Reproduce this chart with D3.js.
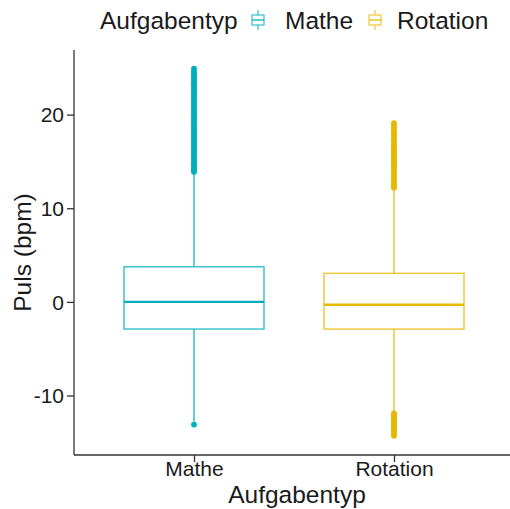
<!DOCTYPE html>
<html>
<head>
<meta charset="utf-8">
<script src="https://cdn.jsdelivr.net/npm/d3@7"></script>
<style>
  html, body { margin: 0; padding: 0; background: #fff; }
  svg { display: block; font-family: "Liberation Sans", Arial, sans-serif; }
</style>
</head>
<body>
<svg id="chart" width="510" height="509"></svg>
<script>
// Task types on the x axis and their colours
const categories = ["Mathe", "Rotation"];
const colors = ["#00AFBB", "#E7B800"];

// Box statistics per task type (bpm): lower whisker, Q1, median, Q3, upper whisker
const whiskerLow = [-12.8, -11.8];
const q1 = [-2.9, -2.9];
const median = [0.0, -0.3];
const q3 = [3.75, 3.05];
const whiskerHigh = [13.8, 12.0];

// Outlying pulse values
const outliersMathe = [
  -13.1,
  13.9, 14.1, 14.3, 14.6, 14.8, 15.0, 15.3, 15.5, 15.8, 16.0, 16.2, 16.5, 16.7,
  17.0, 17.2, 17.4, 17.7, 17.9, 18.2, 18.4, 18.6, 18.9, 19.1, 19.4, 19.6, 19.8,
  20.1, 20.3, 20.6, 20.8, 21.0, 21.3, 21.5, 21.8, 22.0, 22.2, 22.5, 22.7, 23.0,
  23.2, 23.4, 23.7, 23.9, 24.2, 24.4, 24.6, 24.9
];
const outliersRotation = [
  -11.9, -12.1, -12.3, -12.5, -12.7, -12.9, -13.1, -13.3, -13.5, -13.7, -13.9, -14.1, -14.3,
  12.2, 12.4, 12.6, 12.9, 13.1, 13.3, 13.6, 13.8, 14.0, 14.3, 14.5, 14.7, 15.0,
  15.2, 15.4, 15.7, 15.9, 16.1, 16.4, 16.6, 16.8, 17.1, 17.3, 17.5, 17.8, 18.0,
  18.3, 18.6, 18.9, 19.1
];
const outliers = [outliersMathe, outliersRotation];

const yTicks = [-10, 0, 10, 20];
const yDomain = [-16.35, 26.9];

const svg = d3.select("#chart");
const mLeft = 74, mRight = 514, mTop = 50, mBottom = 455;

// categories sit 0.6 steps in from each end of the axis
const x = d3.scalePoint().domain(categories).range([mLeft, mRight]).padding(0.6);
const step = x.step();
const boxW = step * 0.7;

const y = d3.scaleLinear().domain(yDomain).range([mBottom, mTop]);

const color = d3.scaleOrdinal().domain(categories).range(colors);

// Boxes
const g = svg.append("g");
categories.forEach((c, i) => {
  const cx = x(c);
  const col = color(c);
  const gg = g.append("g");
  // whiskers
  gg.append("line").attr("x1", cx).attr("x2", cx)
    .attr("y1", y(q3[i])).attr("y2", y(whiskerHigh[i]))
    .attr("stroke", col).attr("stroke-width", 1.2);
  gg.append("line").attr("x1", cx).attr("x2", cx)
    .attr("y1", y(q1[i])).attr("y2", y(whiskerLow[i]))
    .attr("stroke", col).attr("stroke-width", 1.2);
  // box
  gg.append("rect")
    .attr("x", cx - boxW / 2).attr("width", boxW)
    .attr("y", y(q3[i])).attr("height", y(q1[i]) - y(q3[i]))
    .attr("fill", "#fff").attr("stroke", col).attr("stroke-width", 1.4)
    .attr("stroke-opacity", 0.8);
  // median
  gg.append("line")
    .attr("x1", cx - boxW / 2).attr("x2", cx + boxW / 2)
    .attr("y1", y(median[i])).attr("y2", y(median[i]))
    .attr("stroke", col).attr("stroke-width", 2.4);
  // outliers
  gg.selectAll("circle").data(outliers[i]).join("circle")
    .attr("cx", cx).attr("cy", d => y(d)).attr("r", 2.9)
    .attr("fill", col);
});

// Axes
const axisColor = "#333";
const yAxis = svg.append("g").attr("transform", `translate(${mLeft},0)`)
  .call(d3.axisLeft(y).tickValues(yTicks).tickSize(7).tickPadding(3).tickFormat(d => String(d)));
const xAxis = svg.append("g").attr("transform", `translate(0,${mBottom})`)
  .call(d3.axisBottom(x).tickSize(7));

[yAxis, xAxis].forEach(a => {
  a.select(".domain").attr("stroke", axisColor).attr("stroke-width", 1.3);
  a.selectAll(".tick line").attr("stroke", axisColor).attr("stroke-width", 1.3);
  a.selectAll("text").attr("fill", "#1a1a1a").style("font-family", "'Liberation Sans', Arial, sans-serif");
});
// axis lines without end caps
yAxis.select(".domain").attr("d", `M0,${mTop}V${mBottom}`);
xAxis.select(".domain").attr("d", `M${mLeft},0H${mRight}`);
yAxis.selectAll("text").attr("font-size", 21).attr("dy", "0.35em");
xAxis.selectAll("text").attr("font-size", 21).attr("y", 21).attr("dy", 0);

// Axis titles
svg.append("text").attr("x", 297).attr("y", 503)
  .attr("text-anchor", "middle").attr("font-size", 24.5).attr("fill", "#1a1a1a")
  .text("Aufgabentyp");
svg.append("text")
  .attr("transform", `translate(31,${(mTop + mBottom) / 2}) rotate(-90)`)
  .attr("text-anchor", "middle").attr("font-size", 24.5).attr("fill", "#1a1a1a")
  .text("Puls (bpm)");

// Legend
const legend = svg.append("g");
legend.append("text").attr("x", 100).attr("y", 28.5)
  .attr("font-size", 24.5).attr("fill", "#1a1a1a").text("Aufgabentyp");
const keyX = [258, 375];
const labelX = [285, 397];
categories.forEach((c, i) => {
  const col = color(c);
  const k = legend.append("g").attr("transform", `translate(${keyX[i]},20)`);
  k.append("line").attr("x1", 0).attr("x2", 0).attr("y1", -10).attr("y2", 10)
    .attr("stroke", col).attr("stroke-width", 1.2).attr("stroke-opacity", 0.8);
  k.append("rect").attr("x", -6).attr("y", -5).attr("width", 12).attr("height", 10)
    .attr("fill", "#fff").attr("stroke", col).attr("stroke-width", 1.2).attr("stroke-opacity", 0.8);
  k.append("line").attr("x1", -6).attr("x2", 6).attr("y1", 0).attr("y2", 0)
    .attr("stroke", col).attr("stroke-width", 1.6).attr("stroke-opacity", 0.8);
  legend.append("text").attr("x", labelX[i]).attr("y", 28.5)
    .attr("font-size", 24.5).attr("fill", "#1a1a1a").text(c);
});
</script>
</body>
</html>
